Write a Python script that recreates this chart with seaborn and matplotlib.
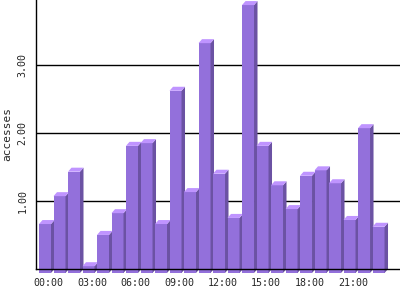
import matplotlib
matplotlib.use("Agg")
import matplotlib.pyplot as plt
import matplotlib.transforms as mtransforms
from matplotlib.patches import Polygon
import seaborn as sns
import pandas as pd

hours = ["00:00", "01:00", "02:00", "03:00", "04:00", "05:00", "06:00", "07:00",
         "08:00", "09:00", "10:00", "11:00", "12:00", "13:00", "14:00", "15:00",
         "16:00", "17:00", "18:00", "19:00", "20:00", "21:00", "22:00", "23:00"]
accesses = [0.72, 1.13, 1.49, 0.10, 0.56, 0.88, 1.87, 1.91, 0.72, 2.68, 1.19, 3.38,
            1.46, 0.81, 3.94, 1.87, 1.29, 0.94, 1.43, 1.51, 1.32, 0.78, 2.13, 0.68]
shown_ticks = ["00:00", "03:00", "06:00", "09:00", "12:00", "15:00", "18:00", "21:00"]
y_ticks = [1, 2, 3]
y_tick_labels = ["1.00", "2.00", "3.00"]

FRONT = "#9370db"
SIDE = "#6b52a3"
TOP = "#bf94ff"

sns.set_theme(style="white")
plt.rcParams["font.family"] = ["DejaVu Sans Mono", "DejaVu Sans"]

df = pd.DataFrame({"hour": hours, "accesses": accesses})

fig = plt.figure(figsize=(4, 3), dpi=100)
ax = fig.add_axes([0.09, 1 - 269 / 300, 0.91, 269 / 300])

sns.barplot(data=df, x="hour", y="accesses", color=FRONT, saturation=1,
            width=12 / 14.5, linewidth=0, ax=ax, zorder=3)

ax.set_xlim(-0.862, 24.24)
ax.set_ylim(0, 269 / 68)

ax.set_yticks(y_ticks)
ax.set_yticklabels(y_tick_labels, rotation=90, va="center", fontsize=7.2)
ax.set_xticks([hours.index(h) for h in shown_ticks])
ax.set_xticklabels(shown_ticks, fontsize=7.2)
ax.tick_params(axis="both", length=0)
ax.tick_params(axis="x", pad=6.5)
ax.tick_params(axis="y", pad=6)
ax.set_xlabel("")
ax.set_ylabel("accesses", fontsize=8, labelpad=4)

ax.yaxis.grid(True, color="black", linewidth=1.0)
ax.xaxis.grid(False)
ax.set_axisbelow(True)
for s in ["top", "right"]:
    ax.spines[s].set_visible(False)
for s in ["left", "bottom"]:
    ax.spines[s].set_color("black")
    ax.spines[s].set_linewidth(1.0)
    ax.spines[s].set_zorder(50)

# 3D effect: front face shifted down-left, with side and top faces
dx, dy = 3.5, 4.0  # pixels
ident = mtransforms.IdentityTransform()
fig.canvas.draw()
for i, p in enumerate(list(ax.patches)):
    x0 = p.get_x()
    w = p.get_width()
    h = p.get_height()
    (bx0, by0) = ax.transData.transform((x0, 0))
    (bx1, by1) = ax.transData.transform((x0 + w, h))
    z = 10 + i * 0.1
    p.set_visible(False)
    front = Polygon([(bx0 - dx, by0 - dy), (bx1 - dx, by0 - dy),
                     (bx1 - dx, by1 - dy), (bx0 - dx, by1 - dy)],
                    closed=True, transform=ident, facecolor=FRONT,
                    edgecolor="none", zorder=z, clip_on=False)
    side = Polygon([(bx1 - dx, by0 - dy), (bx1, by0), (bx1, by1), (bx1 - dx, by1 - dy)],
                   closed=True, transform=ident, facecolor=SIDE,
                   edgecolor="none", zorder=z, clip_on=False)
    top = Polygon([(bx0 - dx, by1 - dy), (bx1 - dx, by1 - dy), (bx1, by1), (bx0, by1)],
                  closed=True, transform=ident, facecolor=TOP,
                  edgecolor="none", zorder=z, clip_on=False)
    for poly in (front, side, top):
        ax.add_artist(poly)

fig.savefig("out.png", dpi=100)
